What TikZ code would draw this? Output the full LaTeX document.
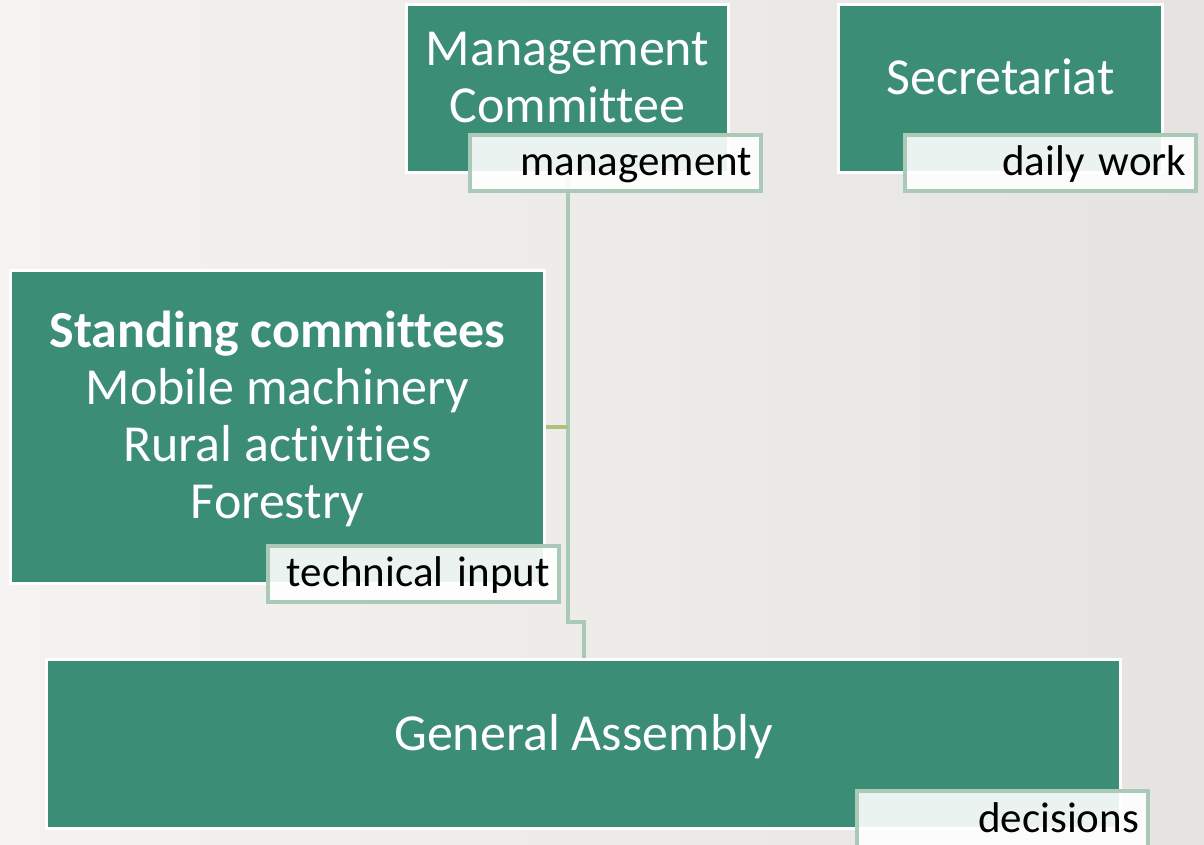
\documentclass[tikz,border=0pt]{standalone}
\usepackage{fontspec}
\setmainfont{Carlito}[Ligatures=NoCommon]
\usepackage{tikz}
\usetikzlibrary{calc}
\definecolor{boxgreen}{RGB}{59,141,117}
\definecolor{tagline}{RGB}{170,201,182}
\definecolor{sideline}{RGB}{170,194,122}
\definecolor{bgleft}{RGB}{244,243,241}
\definecolor{bgright}{RGB}{229,228,225}
\tikzset{
	unitbox/.style={draw=white, line width=1.5pt, fill=boxgreen, text=white, font=\fontsize{26}{28.5}\selectfont, align=center, text depth=12pt, inner sep=0pt},
	tagbox/.style={draw=tagline, line width=2pt, fill=white, fill opacity=0.9, text opacity=1, text=black, font=\fontsize{21.5}{24}\selectfont, text width=136.5pt, inner xsep=4.5pt, inner ysep=0pt, minimum height=28pt, align=right, text height=16pt, text depth=3pt},
	orgline/.style={draw=tagline, line width=2pt},
	sidelink/.style={draw=sideline, line width=2pt}
}

\begin{document}
\begin{tikzpicture}[x=0.5pt, y=-0.5pt]
			%%%%% START %%%%%
			
			\useasboundingbox (0, 0) rectangle (1204, 845);
			\shade[left color=bgleft, right color=bgright] (0, 0) rectangle (1204, 845);
			
			\node[unitbox, minimum width=161pt, minimum height=84pt] (mc) at (567.5, 89) {Management\\Committee};
			\node[unitbox, minimum width=162pt, minimum height=84pt] (sec) at (1000.5, 89) {Secretariat};
			\node[unitbox, minimum width=267pt, minimum height=156.5pt] (sc) at (277.5, 427) {{\bfseries Standing committees}\\Mobile machinery\\Rural activities\\Forestry};
			\node[unitbox, minimum width=537pt, minimum height=84.5pt] (ga) at (583.5, 744) {General Assembly};
			
			\draw[orgline] (mc.south) -- (mc.south |- 0, 622) -| (ga.north);
			\draw[sidelink] (sc.east) -- (sc.east -| mc.south);
			
			\node[tagbox] (mctag) at (615.5, 163) {management};
			\node[tagbox] (sectag) at (1050, 163) {daily work};
			\node[tagbox] (sctag) at (413.5, 573.5) {technical input};
			\node[tagbox] (gatag) at (1002.5, 819) {decisions};
			
			%%%%% END %%%%%
		\end{tikzpicture}
\end{document}
